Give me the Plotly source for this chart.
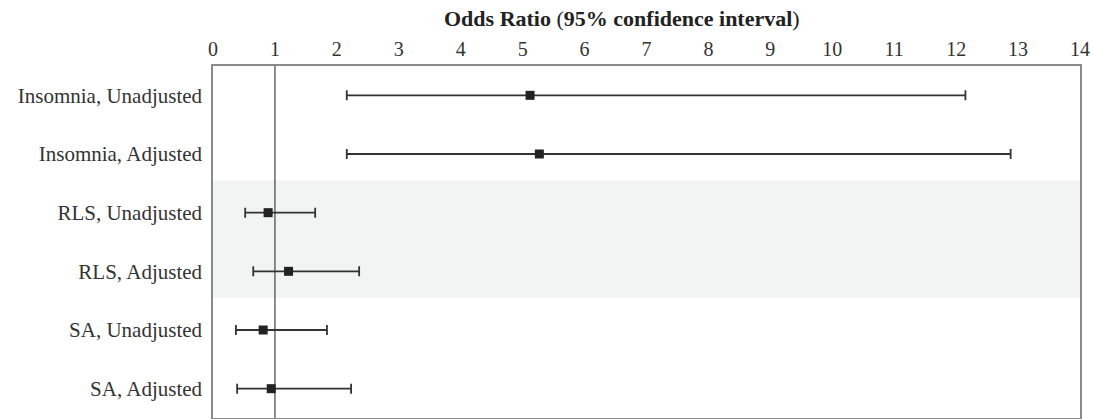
import plotly.graph_objects as go

categories = ["Insomnia, Unadjusted", "Insomnia, Adjusted", "RLS, Unadjusted",
              "RLS, Adjusted", "SA, Unadjusted", "SA, Adjusted"]
odds_ratio = [5.12, 5.27, 0.89, 1.22, 0.81, 0.94]
ci_lower = [2.16, 2.16, 0.52, 0.65, 0.37, 0.39]
ci_upper = [12.15, 12.88, 1.65, 2.36, 1.84, 2.23]
x_ticks = list(range(0, 15))
shaded_rows = ["RLS, Unadjusted", "RLS, Adjusted"]

err_plus = [u - o for u, o in zip(ci_upper, odds_ratio)]
err_minus = [o - l for o, l in zip(odds_ratio, ci_lower)]

FONT = "Liberation Serif"

fig = go.Figure()
fig.add_trace(go.Scatter(
    x=odds_ratio, y=categories, mode="markers",
    marker=dict(symbol="square", size=9, color="#222222"),
    error_x=dict(type="data", array=err_plus, arrayminus=err_minus,
                 color="#333333", thickness=1.8, width=5),
    showlegend=False, hoverinfo="skip",
))

idx0 = categories.index(shaded_rows[0])
idx1 = categories.index(shaded_rows[-1])
fig.add_shape(type="rect", xref="paper", yref="y", x0=0, x1=1,
              y0=idx0 - 0.55, y1=idx1 + 0.45, fillcolor="#f2f3f3",
              line=dict(width=0), layer="below")
fig.add_shape(type="line", xref="x", yref="paper", x0=1, x1=1, y0=0, y1=1,
              line=dict(color="#666666", width=1.5), layer="below")

fig.update_layout(
    width=1093, height=419,
    margin=dict(l=213, r=13, t=66, b=1, autoexpand=False),
    paper_bgcolor="white", plot_bgcolor="white",
    font=dict(family=FONT, size=21, color="#333333"),
    xaxis=dict(range=[0, 14], side="top", tickvals=x_ticks,
               ticktext=[str(t) for t in x_ticks], showgrid=False,
               tickfont=dict(size=20),
               zeroline=False, showline=True, mirror=True, automargin=False,
               linecolor="#8a8a8a", linewidth=1.5, ticks="", ticklabelstandoff=0),
    yaxis=dict(categoryorder="array", categoryarray=categories,
               range=[len(categories) - 0.5, -0.5], showgrid=False,
               zeroline=False, showline=True, mirror=True, automargin=False,
               linecolor="#8a8a8a", linewidth=1.5, ticks="", ticklabelstandoff=5),
    annotations=[dict(text="<b>Odds Ratio </b>(<b>95% confidence interval</b>)",
                      xref="paper", yref="paper", x=0.5, y=1, yshift=33, xshift=-25,
                      xanchor="center", yanchor="bottom", showarrow=False,
                      font=dict(family=FONT, size=22, color="#222222"))],
)

fig.write_html("out.html", config={"displayModeBar": False},
               post_script="document.body.style.margin='0px';")
